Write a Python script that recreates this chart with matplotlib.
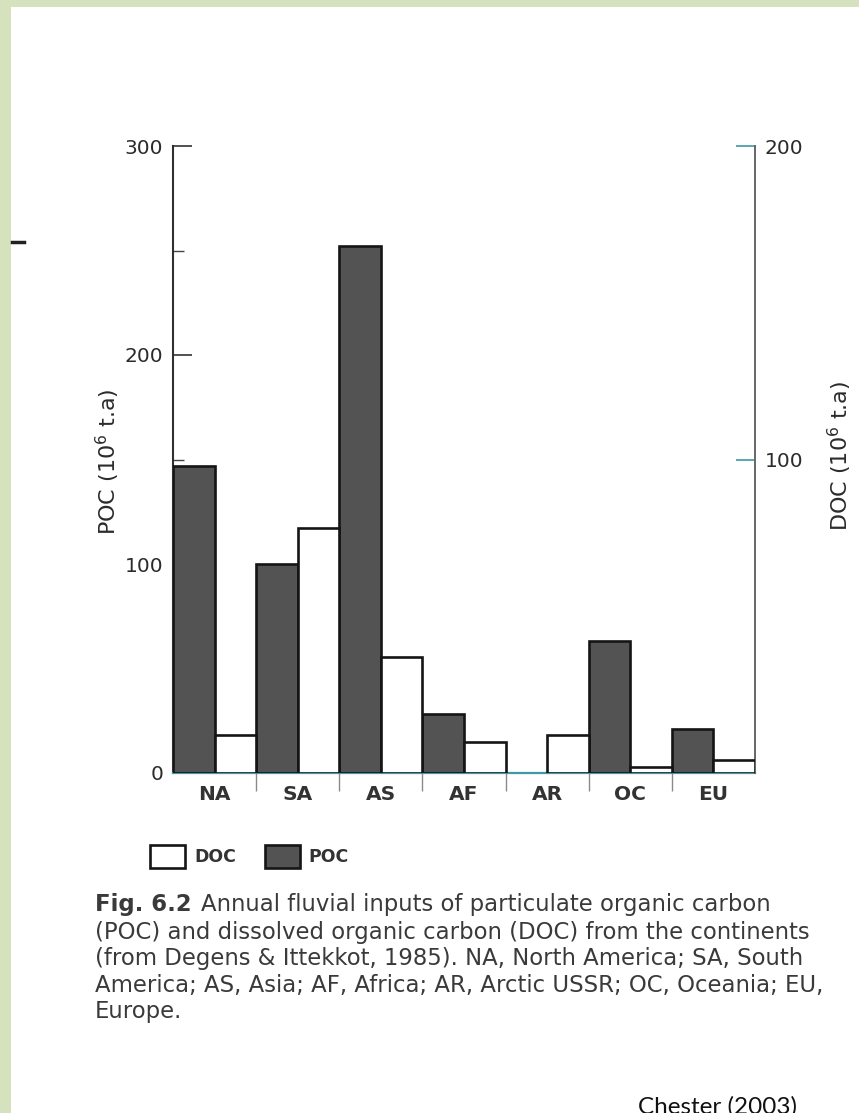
import matplotlib
matplotlib.use("Agg")
import matplotlib.pyplot as plt
from matplotlib.patches import Rectangle
from matplotlib.lines import Line2D
import numpy as np

# Annual fluvial carbon inputs by continent (10^6 t/a)
regions = ["NA", "SA", "AS", "AF", "AR", "OC", "EU"]
poc = [147, 100, 252, 28, 0, 63, 21]
doc = [12, 78, 37, 10, 12, 2, 4]

poc_ticks = [0, 100, 200, 300]
poc_minor = [50, 150, 250]
doc_ticks = [100, 200]

caption_lines = [
    "(POC) and dissolved organic carbon (DOC) from the continents",
    "(from Degens & Ittekkot, 1985). NA, North America; SA, South",
    "America; AS, Asia; AF, Africa; AR, Arctic USSR; OC, Oceania; EU,",
    "Europe.",
]
caption_head = "Fig. 6.2"
caption_first = "Annual fluvial inputs of particulate organic carbon"
credit = "Chester (2003)"

plt.rcParams["font.family"] = ["DejaVu Sans"]
plt.rcParams["mathtext.fontset"] = "dejavusans"

W, H = 859, 1113
fig = plt.figure(figsize=(W / 100, H / 100), dpi=100)
fig.patch.set_facecolor("white")
renderer = fig.canvas.get_renderer()


def fx(px):
    return px / W


def fy(py):
    return 1 - py / H


# page border strips
green = "#d6e2bd"
fig.add_artist(Rectangle((0, 0), fx(11), 1, transform=fig.transFigure,
                         facecolor=green, edgecolor="none", zorder=0))
fig.add_artist(Rectangle((0, fy(7)), 1, 1 - fy(7), transform=fig.transFigure,
                         facecolor=green, edgecolor="none", zorder=0))
fig.add_artist(Line2D([fx(12), fx(24)], [fy(242), fy(242)],
                      transform=fig.transFigure, color="#222", lw=2.5))

ink = "#2b2b2b"
teal = "#3d9aa6"
poc_fill = "#535353"

ax = fig.add_axes([fx(173), fy(773), fx(755) - fx(173), fy(146) - fy(773)])
ax2 = ax.twinx()

x = np.arange(len(regions))
bw = 0.5
for xi, v in zip(x, poc):
    if v > 0:
        ax.bar(xi - bw / 2, v, width=bw, color=poc_fill, edgecolor="#151515",
               linewidth=1.9, zorder=3)
ax2.bar(x + bw / 2, doc, width=bw, color="white", edgecolor="#151515",
        linewidth=1.9, zorder=3)

ax.set_xlim(-0.5, len(regions) - 0.5)
ax.set_ylim(0, 300)
ax2.set_ylim(0, 200)

for a in (ax, ax2):
    a.spines["top"].set_visible(False)
    a.set_facecolor("none")
ax2.spines["left"].set_visible(False)
ax2.spines["bottom"].set_visible(False)
ax.spines["right"].set_visible(False)
ax.spines["left"].set_color("#303030")
ax.spines["left"].set_linewidth(1.5)
ax.spines["bottom"].set_color(teal)
ax.spines["bottom"].set_linewidth(1.6)
ax2.spines["right"].set_color("#666666")
ax2.spines["right"].set_linewidth(1.4)

# left axis
ax.set_yticks(poc_ticks)
ax.set_yticks(poc_minor, minor=True)
ax.tick_params(axis="y", which="major", direction="in", length=14, width=1.2,
               pad=7, labelsize=14.5, labelcolor=ink, color="#333")
ax.tick_params(axis="y", which="minor", direction="in", length=8, width=1.0,
               color="#444")
for t in ax.yaxis.get_major_ticks():
    if abs(t.get_loc() - 200) < 1e-6:
        t.tick1line.set_color("#c0474f")

# category labels and group separators
ax.set_xticks(x)
ax.set_xticklabels(regions, fontweight="bold")
ax.tick_params(axis="x", which="major", length=0, pad=9, labelsize=14.5,
               labelcolor="#333")
ax.set_xticks(x[:-1] + 0.5, minor=True)
ax.tick_params(axis="x", which="minor", direction="out", length=13, width=1.0,
               color="#8a8a8a")

# right axis
ax2.set_yticks(doc_ticks)
ax2.tick_params(axis="y", which="major", direction="in", length=14, width=1.2,
                pad=7, labelsize=14.5, labelcolor=ink, color=teal)

fig.text(fx(108), fy(462), "POC (10$^6$ t.a)", rotation=90, ha="center",
         va="center", fontsize=16, color=ink)
fig.text(fx(840), fy(456), "DOC (10$^6$ t.a)", rotation=90, ha="center",
         va="center", fontsize=16, color=ink)


# legend
def legend_box(x0, x1, face, label, tx):
    fig.add_artist(Rectangle((fx(x0), fy(868)), fx(x1) - fx(x0), fy(845) - fy(868),
                             transform=fig.transFigure, facecolor=face,
                             edgecolor="#151515", linewidth=1.9))
    fig.text(fx(tx), fy(857), label, ha="left", va="center", fontsize=12.5,
             fontweight="bold", color="#333")


legend_box(150, 185, "white", "DOC", 194)
legend_box(265, 300, poc_fill, "POC", 308)

# caption: size chosen so the widest line fills the text column
cap_color = "#3a3a3a"
probe = fig.text(0, 0, caption_lines[2], fontsize=10)
cap_size = 10 * 728 / probe.get_window_extent(renderer).width
probe.remove()

head = fig.text(fx(95), fy(905), caption_head, ha="left", va="center",
                fontsize=cap_size, fontweight="bold", color=cap_color)
head_w = head.get_window_extent(renderer).width
fig.text(fx(95 + head_w + 9), fy(905), caption_first, ha="left", va="center",
         fontsize=cap_size, color=cap_color)
for i, line in enumerate(caption_lines):
    fig.text(fx(95), fy(932 + 26.6 * i), line, ha="left", va="center",
             fontsize=cap_size, color=cap_color)

fig.text(fx(638), fy(1114), credit, ha="left", va="baseline", fontsize=17.5,
         color="#111", family=["Lato", "DejaVu Sans"])

fig.savefig("out.png", dpi=100, facecolor="white")
